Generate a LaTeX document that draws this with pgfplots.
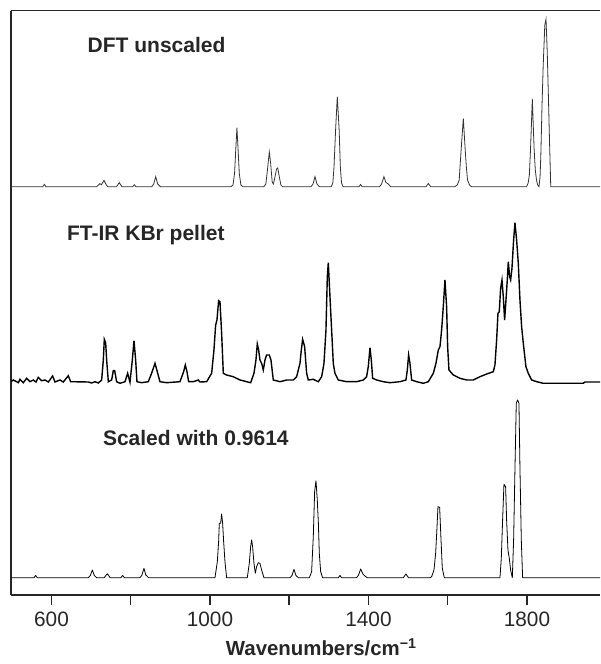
\documentclass[border=0pt]{standalone}
\usepackage{fontspec}
\setmainfont{Liberation Sans}
\usepackage{pgfplots}
\pgfplotsset{compat=1.18}
\begin{document}
\begin{tikzpicture}
\begin{axis}[name=ax, scale only axis, width=294.5pt, height=292.15pt,
  xmin=497.8, xmax=1984.3, ymin=0, ymax=584.3,
  axis x line=box, axis y line=left,
  axis line style={-, line width=0.8pt, black!85},
  ytick=\empty, xtick={600,800,...,1800}, xticklabels={600,,1000,,1400,,1800},
  xtick pos=bottom, xtick align=outside, major tick length=5pt,
  tick style={line width=0.75pt, black!85},
  /pgf/number format/assume math mode=true,
  tick label style={font=\fontsize{10.4}{12}\selectfont, text=black!85},
  xlabel={\textbf{Wavenumbers/cm\textsuperscript{−1}}},
  xlabel style={font=\fontsize{10.2}{12}\selectfont, text=black!85, xshift=8pt, yshift=1pt},
  no markers,
  cycle list={{black!80, line width=0.7pt, line join=round, solid}},
]
% DFT unscaled
\addplot coordinates {
(497.8,408.3)(578,408.3)(582,410.6)(586,408.3)
(714,408.3)(722,411.3)(726,410.3)(732.5,414.6)(738,410.3)(742,408.3)
(764,408.3)(771,412.3)(778,408.3)
(805,408.3)(809,410.3)(813,408.3)
(853,408.3)(858,411)(863,418.3)(868,411)(875,408.3)
(1053,408.3)(1058,410)(1062,421.3)(1065,445)(1068,467.3)(1071,445)(1074,421.3)(1078,410)(1083,408.3)
(1136,408.3)(1141,411)(1145,425)(1149.7,443)(1153,432)(1157,413)(1160,411)(1164,418)(1168,426)(1171,427)(1175,418)(1179,410)(1183,408.3)
(1255,408.3)(1260,411)(1265,418.3)(1270,411)(1276,408.3)
(1306,408.3)(1310,412)(1313,428)(1317,465)(1321.3,498.3)(1326,465)(1329,428)(1332,412)(1336,408.3)
(1376,408.3)(1380,410.5)(1384,408.3)
(1428,408.3)(1433,411)(1439,418.3)(1444,412.5)(1450,411)(1456,408.3)
(1545,408.3)(1551,411.5)(1557,408.3)
(1618,408.3)(1624,410)(1629,415)(1631,428)(1634,446)(1639.3,476.7)(1644,446)(1647,428)(1650,415)(1655,410)(1660,408.3)
(1799,408.3)(1803,412)(1806,420)(1809,446)(1813.5,496)(1818,446)(1821,425)(1824,415)(1827,410)(1830.3,408.3)
(1833,418)(1835,440)(1838,490)(1841,530)(1845,570)(1848,575.7)(1851,545)(1854,500)(1857,452)(1860,408.3)
(1984.3,408.3)
};
% FT-IR KBr pellet
\addplot coordinates {
(497.8,213.3)(503.6,215)(512.1,213.3)(516.3,212.3)(520.5,215.7)(528.9,212.3)(537.3,216.7)(545.7,213.3)(554.1,215)(560.9,213)
(566.7,217.7)(575.2,214.3)(583.6,215)(592,213)(602.9,219)(608.8,213)(621.4,215)(629.8,213)(642.4,219.3)(648.3,213.3)
(693,213)(701.3,212)(709.7,213.3)(718.2,212)(726.6,215)(730.8,235)(733.3,255.7)(736.7,252.3)(739.2,235)(743.4,213.3)
(751.8,215)(756,224.3)(759.4,224.3)(764.4,213.3)(772.8,211.7)(785.5,213.3)(792.2,221.7)(798.1,212.7)(804,235)(808.2,254.3)
(812.4,235)(815.7,213.3)(827.5,212.3)(844.3,213.3)(852.7,221.7)(861.2,231.7)(867,223.3)(873.8,213.3)(890.6,212.3)(924.2,213.3)
(933.5,223.3)(937.7,230)(941.9,223.3)(946.1,213.3)(957.9,213.3)(970.5,215)(974.7,213)(991.5,213.3)(1004.2,221.7)(1010,245)
(1014.3,270)(1017.6,275)(1021.8,294.3)(1025.2,293.3)(1029.4,261.7)(1033.6,221.7)(1042,220)(1058.8,218.3)(1075.7,215)(1092.5,213.3)
(1102.6,212.3)(1111,221.7)(1116,235)(1119.4,251)(1122.8,245)(1126.1,235)(1130.3,231.7)(1134.5,225)(1138.8,235)(1143,240)
(1149.7,240)(1153.9,235)(1159.8,215)(1176.6,213.3)(1193.4,215)(1210.3,215)(1218.7,218.3)(1227.1,231.7)(1230.5,245)(1233.8,255.7)
(1238.9,248.3)(1243.9,221.7)(1248.1,215)(1260.7,215.7)(1273.4,213.3)(1281.8,218.3)(1287.7,231.7)(1292.7,265)(1296.1,318.3)(1298.6,332.3)
(1302.8,298.3)(1307,265)(1311.2,231.7)(1315.4,221.7)(1323.8,215)(1344.9,213.3)(1370.1,213.3)(1386.9,215)(1395.3,218.3)(1399.5,228.3)
(1403.8,247.3)(1407.1,235)(1410.5,216.7)(1420.6,215)(1437.4,213.3)(1454.2,212.3)(1479.5,213.3)(1494.6,215)(1498,225)(1501.3,240)
(1504.7,231.7)(1508.9,215)(1521.5,213.3)(1538.3,211.7)(1551,213.3)(1563.6,221.7)(1570.3,231.7)(1576.2,245)(1580.4,248.3)(1584.6,265)
(1588.8,288.3)(1593,315)(1597.2,288.3)(1599.8,248.3)(1603.1,225)(1614.1,220)(1630.9,216.7)(1647.7,215)(1664.5,215)(1681.3,218.3)
(1698.2,221)(1715,223.3)(1719.2,230)(1723.4,255)(1726.8,281.7)(1730.1,283.3)(1733.5,306.7)(1736.9,315)(1740.2,298.3)(1743.6,275)
(1747,295)(1750.3,315)(1752.9,333.3)(1756.2,318.3)(1758.8,315)(1762.1,326.7)(1766.3,355)(1769.7,372.3)(1773.9,355)(1778.1,331.7)
(1782.3,295)(1786.5,268.3)(1790.7,251.7)(1797.4,228.3)(1803.3,221.7)(1811.7,215)(1824.4,213.3)(1841.2,211.7)(1942.1,211.7)(1946.3,213)
(1984.3,213)
};
% Scaled with 0.9614
\addplot coordinates {
(497.8,17.3)(556,17.3)(560,19.6)(564,17.3)
(693,17.3)(698,19.5)(703,25)(708,19.5)(714,17.3)
(733,17.3)(741,21.3)(748,17.3)
(775,17.3)(779.6,19.6)(784,17.3)
(823,17.3)(828,19.7)(833.4,26.6)(838,20)(845,17.3)
(1012.6,17.3)(1018.5,33.3)(1021.8,53.3)(1023.5,71.7)(1026.9,71.7)(1029.4,81)(1031.9,71.7)(1034.5,53.3)(1037.8,33.3)(1042,17.3)
(1094.2,17.3)(1099.2,31.7)(1102.6,48.3)(1105.1,55)(1107.6,48.3)(1111,31.7)(1114.4,21.7)(1117.7,28.3)(1121.9,32.3)(1126.1,31.7)(1130.3,25)(1136.2,17.3)
(1202,17.3)(1207,19.5)(1212,25.6)(1217,19.5)(1223,17.3)
(1250.7,17.3)(1256.5,23.3)(1260.7,58.3)(1264.1,103.3)(1267.5,114.3)(1270.8,95)(1273.4,73.3)(1275.9,41.7)(1279.3,23.3)(1284.3,17.3)
(1324,17.3)(1328,19.6)(1332,17.3)
(1370,17.3)(1375,20)(1380.2,26)(1386,21)(1391,19)(1397,17.3)
(1488,17.3)(1494.6,21)(1501,17.3)
(1555.2,17.3)(1559.4,18.3)(1565.3,25)(1569.5,41.7)(1572.8,66.7)(1575.4,88.3)(1579.6,87.7)(1582.9,56.7)(1586.3,26.7)(1591.3,17.3)
(1731.8,17.3)(1735.2,36.7)(1738.5,75)(1741.9,110.7)(1746.1,108.3)(1748.6,75)(1752,45)(1755.4,36.7)(1758.7,25)(1763,17.3)
(1766.3,55)(1769.7,126.7)(1773,191.7)(1776.4,195)(1779.8,191.7)(1782.3,126.7)(1785.7,55)(1789,17.3)
(1984.3,17.3)
};
\node[anchor=west, inner sep=0, font=\bfseries\fontsize{10.5}{12}\selectfont, text=black!85] at (axis cs:690.4,550) {DFT unscaled};
\node[anchor=west, inner sep=0, font=\bfseries\fontsize{10.5}{12}\selectfont, text=black!85] at (axis cs:638.2,360) {FT-IR KBr pellet};
\node[anchor=west, inner sep=0, font=\bfseries\fontsize{10.5}{12}\selectfont, text=black!85] at (axis cs:729.1,157.3) {Scaled with 0.9614};
\end{axis}
\pgfresetboundingbox
\path ([xshift=-5.5pt,yshift=5.35pt]ax.north west) rectangle ([yshift=-34.5pt]ax.south east);
\end{tikzpicture}
\end{document}
